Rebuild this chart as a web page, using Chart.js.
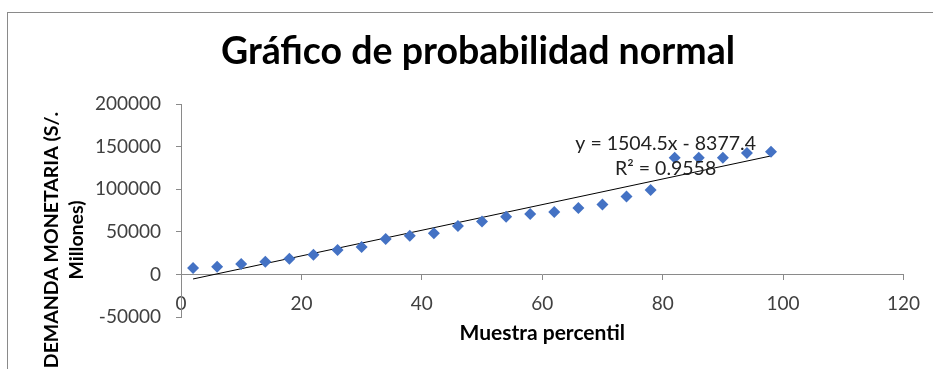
<!DOCTYPE html>
<html lang="es">
<head>
<meta charset="utf-8">
<title>Gráfico de probabilidad normal</title>
<script src="https://cdn.jsdelivr.net/npm/chart.js@4.4.1/dist/chart.umd.min.js"></script>
<style>
  html, body { margin: 0; padding: 0; background: #fff; overflow: hidden; }
  #wrap { position: relative; width: 933px; height: 369px; }
  #frame { position: absolute; left: 7px; top: 12px; width: 2000px; height: 2000px;
           border: 1px solid #8a8a8a; pointer-events: none; }
  canvas { position: absolute; left: 0; top: 0; }
</style>
</head>
<body>
<div id="wrap">
  <div id="frame"></div>
  <canvas id="chart" width="933" height="369"></canvas>
</div>
<script>
// Sample percentiles (x) and monetary demand, S/. millions (y)
const percentiles = [2, 6, 10, 14, 18, 22, 26, 30, 34, 38, 42, 46, 50,
                     54, 58, 62, 66, 70, 74, 78, 82, 86, 90, 94, 98];
const demanda = [7400, 9000, 12100, 14900, 18400, 23100, 28600, 32100, 41600,
                 45500, 48200, 56800, 62000, 67800, 71000, 73300, 78000, 82000,
                 91400, 99200, 136800, 136800, 136800, 142400, 143900];

// Linear trend line coefficients and fit quality
const SLOPE = 1504.5;
const INTERCEPT = -8377.4;
const R2 = 0.9558;

const xTicks = [0, 20, 40, 60, 80, 100, 120];
const yTicks = [-50000, 0, 50000, 100000, 150000, 200000];

const TITLE = 'Gráfico de probabilidad normal';
const X_TITLE = 'Muestra percentil';
const Y_TITLE = ['DEMANDA MONETARIA (S/.', 'Millones)'];

const FONT = 'Lato, "Open Sans", sans-serif';
const AXIS_GREY = '#8a8a8a';
const TEXT = '#404040';

const points = percentiles.map((p, i) => ({ x: p, y: demanda[i] }));
const xFirst = percentiles[0];
const xLast = percentiles[percentiles.length - 1];
const trend = [xFirst, xLast].map(x => ({ x, y: SLOPE * x + INTERCEPT }));

const equation = 'y = ' + SLOPE.toFixed(1) + 'x ' + (INTERCEPT < 0 ? '- ' : '+ ') + Math.abs(INTERCEPT).toFixed(1);
const r2Text = 'R² = ' + R2.toFixed(4);

// Chart title, axis titles and trend-line equation drawn on top of the chart
const annotations = {
  id: 'annotations',
  afterDraw(chart) {
    const { ctx, chartArea } = chart;
    const xs = chart.scales.x, ys = chart.scales.y;
    ctx.save();
    ctx.fillStyle = '#000';
    ctx.textAlign = 'center';
    ctx.textBaseline = 'middle';

    // chart title
    ctx.font = 'bold 37.5px ' + FONT;
    ctx.fillText(TITLE, 478, 52);

    // y-axis title, two rotated lines
    ctx.font = 'bold 19.5px ' + FONT;
    ctx.save();
    ctx.translate(52, 240);
    ctx.rotate(-Math.PI / 2);
    ctx.fillText(Y_TITLE[0], 0, 0);
    ctx.restore();
    ctx.save();
    ctx.translate(77, 240);
    ctx.rotate(-Math.PI / 2);
    ctx.fillText(Y_TITLE[1], 0, 0);
    ctx.restore();

    // x-axis title
    ctx.font = 'bold 21px ' + FONT;
    ctx.fillText(X_TITLE, (chartArea.left + chartArea.right) / 2, 333);

    // trend-line equation
    ctx.fillStyle = '#222';
    ctx.font = '19.5px ' + FONT;
    const ex = xs.getPixelForValue(80.5);
    ctx.fillText(equation, ex, ys.getPixelForValue(153000));
    ctx.fillText(r2Text, ex, ys.getPixelForValue(123500));
    ctx.restore();
  }
};

new Chart(document.getElementById('chart'), {
  type: 'scatter',
  data: {
    datasets: [
      {
        label: 'Demanda',
        data: points,
        pointStyle: 'rectRot',
        pointRadius: 6,
        pointHoverRadius: 6,
        backgroundColor: '#4472C4',
        borderColor: '#4472C4',
        borderWidth: 0
      },
      {
        label: 'Lineal',
        type: 'line',
        data: trend,
        borderColor: '#000',
        borderWidth: 1,
        pointRadius: 0,
        fill: false
      }
    ]
  },
  options: {
    responsive: false,
    animation: false,
    events: [],
    layout: { padding: { left: 0, right: 28, top: 104, bottom: 52 } },
    plugins: {
      legend: { display: false },
      tooltip: { enabled: false },
      title: { display: false }
    },
    scales: {
      x: {
        type: 'linear',
        position: { y: 0 },
        min: xTicks[0],
        max: xTicks[xTicks.length - 1],
        afterBuildTicks: s => { s.ticks = xTicks.map(v => ({ value: v })); },
        grid: { display: true, drawOnChartArea: false, drawTicks: true, tickLength: 5, color: AXIS_GREY },
        border: { display: true, color: AXIS_GREY, width: 1 },
        ticks: { color: TEXT, font: { family: FONT, size: 19 }, padding: 13, maxRotation: 0 }
      },
      y: {
        type: 'linear',
        min: yTicks[0],
        max: yTicks[yTicks.length - 1],
        afterBuildTicks: s => { s.ticks = yTicks.map(v => ({ value: v })); },
        afterFit: s => { s.width = 181; },
        grid: { display: true, drawOnChartArea: false, drawTicks: true, tickLength: 5, color: AXIS_GREY },
        border: { display: true, color: AXIS_GREY, width: 1 },
        ticks: { color: TEXT, font: { family: FONT, size: 19 }, padding: 15,
                 callback: v => String(v) }
      }
    }
  },
  plugins: [annotations]
});
</script>
</body>
</html>
